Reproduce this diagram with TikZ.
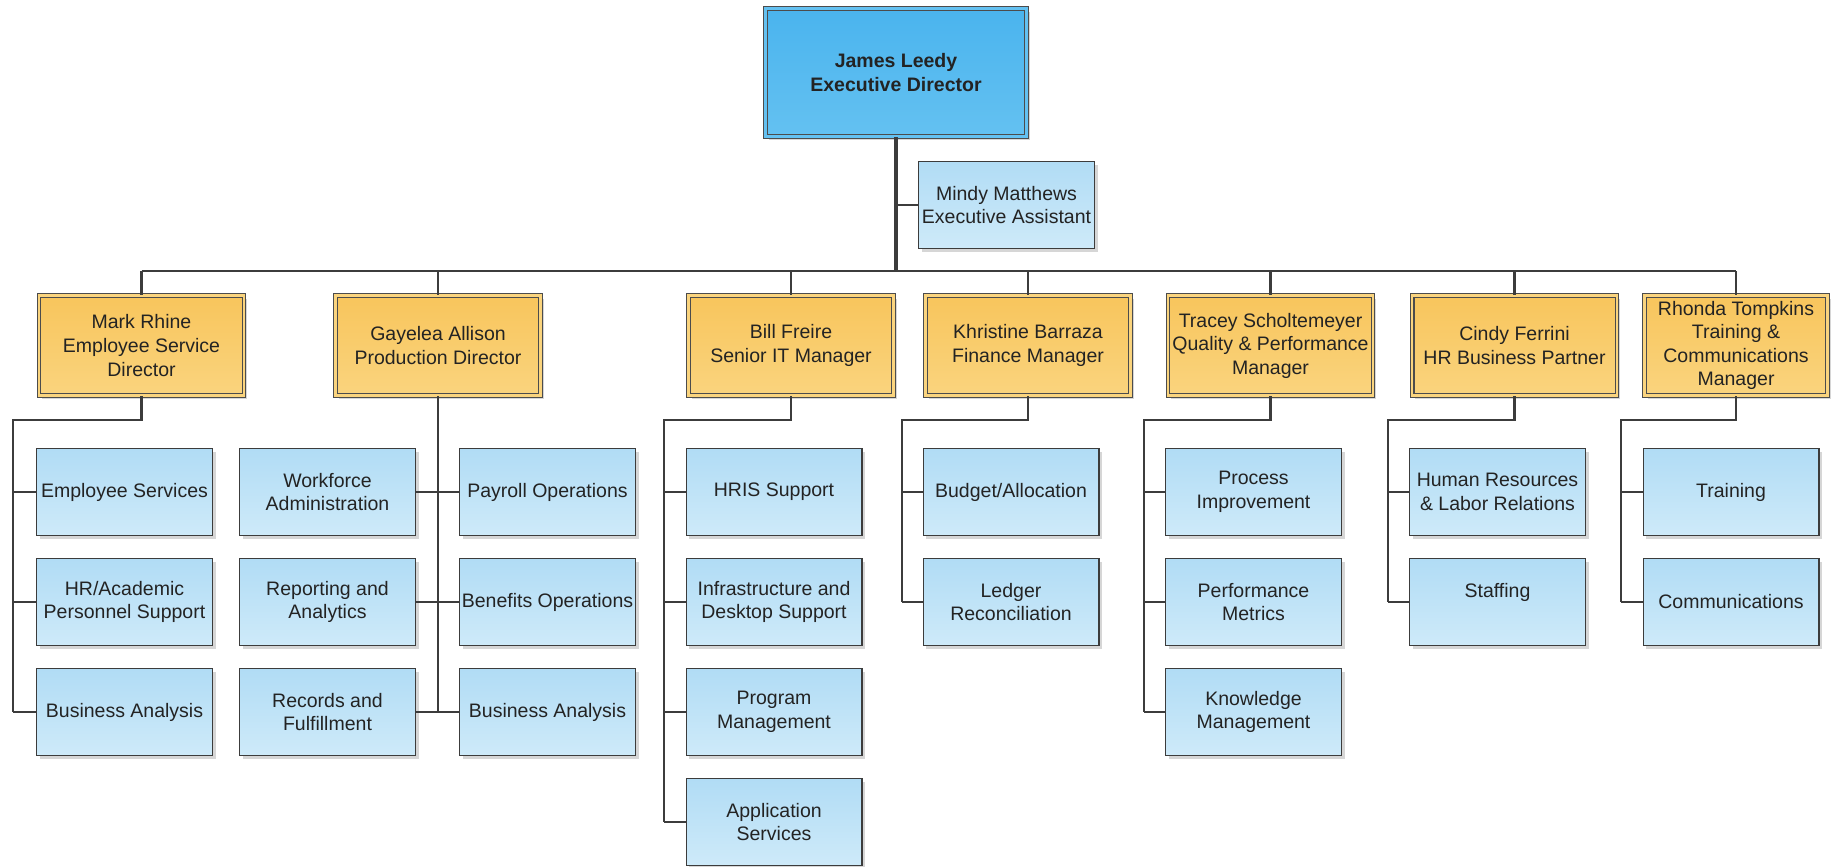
\documentclass[tikz,border=0pt]{standalone}
\usepackage{fontspec}
\setmainfont{Liberation Sans}
\usetikzlibrary{shadows}
\definecolor{lineclr}{RGB}{60,60,60}
\definecolor{textclr}{RGB}{35,35,35}
\definecolor{chieftop}{RGB}{74,180,238}
\definecolor{chiefbot}{RGB}{100,193,241}
\definecolor{headtop}{RGB}{248,197,92}
\definecolor{headbot}{RGB}{250,212,126}
\definecolor{unittop}{RGB}{177,220,245}
\definecolor{unitbot}{RGB}{206,234,249}
\tikzset{
	box/.style={
			draw=lineclr, line width=0.6pt, align=center, inner sep=1pt, text=textclr,
			font=\fontsize{11.1}{13.4}\selectfont,
			drop shadow={shadow xshift=1.8pt, shadow yshift=-1.8pt, fill=black!16, opacity=1}
		},
	unit/.style={box, top color=unittop, bottom color=unitbot, minimum width=3.52cm, minimum height=1.74cm},
	head/.style={box, draw=black!70, double=headbot, double distance=1.6pt,
			top color=headtop, bottom color=headbot, minimum width=4.1cm, minimum height=2cm},
	chief/.style={head, double=chiefbot, top color=chieftop, bottom color=chiefbot,
			minimum width=5.22cm, minimum height=2.56cm, font=\fontsize{11.1}{13.4}\selectfont\bfseries},
	link/.style={draw=lineclr, line width=1pt},
	trunk/.style={draw=lineclr, line width=1.6pt}
}

\begin{document}
\begin{tikzpicture}[x=0.02cm, y=-0.02cm]
        \useasboundingbox (0,0) rectangle (1835,866);
        \node[chief] (ed) at (896, 72.5) {James Leedy\\Executive Director};
        \node[unit] (ea) at (1006.5, 205) {Mindy Matthews\\Executive Assistant};
        \node[head] (esd) at (141.5, 345.5) {Mark Rhine\\Employee Service\\Director};
        \node[head] (pd) at (438, 345.5) {Gayelea Allison\\Production Director};
        \node[head] (it) at (791, 345.5) {Bill Freire\\Senior IT Manager};
        \node[head] (fm) at (1028, 345.5) {Khristine Barraza\\Finance Manager};
        \node[head] (qp) at (1270.5, 345.5) {Tracey Scholtemeyer\\Quality \& Performance\\Manager};
        \node[head] (hr) at (1514.5, 345.5) {Cindy Ferrini\\HR Business Partner};
        \node[head, minimum width=3.66cm] (tc) at (1736, 345.5) {Rhonda Tompkins\\Training \&\\Communications\\Manager};
        \node[unit] (esd1) at (124.5, 492) {Employee Services};
        \node[unit] (esd2) at (124.5, 602) {HR/Academic\\Personnel Support};
        \node[unit] (esd3) at (124.5, 712) {Business Analysis};
        \node[unit] (pdl1) at (327.5, 492) {Workforce\\Administration};
        \node[unit] (pdl2) at (327.5, 602) {Reporting and\\Analytics};
        \node[unit] (pdl3) at (327.5, 712) {Records and\\Fulfillment};
        \node[unit] (pdr1) at (547.5, 492) {Payroll Operations};
        \node[unit] (pdr2) at (547.5, 602) {Benefits Operations};
        \node[unit] (pdr3) at (547.5, 712) {Business Analysis};
        \node[unit] (it1) at (774, 492) {HRIS Support};
        \node[unit] (it2) at (774, 602) {Infrastructure and\\Desktop Support};
        \node[unit] (it3) at (774, 712) {Program\\Management};
        \node[unit] (it4) at (774, 822) {Application\\Services};
        \node[unit] (fm1) at (1011, 492) {Budget/Allocation};
        \node[unit] (fm2) at (1011, 602) {Ledger\\Reconciliation};
        \node[unit] (qp1) at (1253.5, 492) {Process\\Improvement};
        \node[unit] (qp2) at (1253.5, 602) {Performance\\Metrics};
        \node[unit] (qp3) at (1253.5, 712) {Knowledge\\Management};
        \node[unit] (hr1) at (1497.5, 492) {Human Resources\\\& Labor Relations};
        \node[unit] (hr2) at (1497.5, 602) {Staffing\\~};
        \node[unit] (tc1) at (1731, 492) {Training};
        \node[unit] (tc2) at (1731, 602) {Communications};
        \coordinate (bus) at (896, 271);
        \draw[trunk, line width=2pt] (ed.south) -- (bus);
        \draw[link] (ed.south |- ea) -- (ea.west);
        \draw[trunk] (esd.north |- bus) -- (tc.north |- bus);
        \foreach \m in {esd,pd,it,fm,qp,hr,tc}
                \draw[link, line width=1.2pt] (\m.north |- bus) -- (\m.north);
        \draw[trunk] (pd.south) -- (pd.south |- pdl1.east);
        \draw[link] (pd.south |- pdl1.east) -- (pd.south |- pdl3.east);
        \foreach \r in {1,2,3}
                \draw[link] (pdl\r.east) -- (pdr\r.west);
        \foreach \m/\x/\n in {esd/13/3, it/664/4, fm/902/2, qp/1144/3, hr/1388/2, tc/1621/2} {
                \coordinate (\m_k) at (\x, 420);
                \draw[trunk] (\m.south) |- (\m_k) -- (\m_k |- \m1.west);
                \draw[link] (\m_k |- \m1.west) -- (\m_k |- \m\n.west);
                \foreach \r in {1,...,\n}
                        \draw[link] (\m_k |- \m\r.west) -- (\m\r.west);
        }
\end{tikzpicture}
\end{document}
